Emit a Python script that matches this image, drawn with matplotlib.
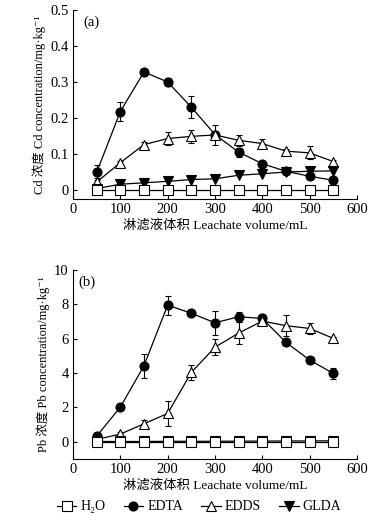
import matplotlib
matplotlib.use("Agg")
import matplotlib.pyplot as plt
from matplotlib.lines import Line2D

plt.rcParams['font.family'] = ['Liberation Serif', 'Noto Sans CJK SC', 'DejaVu Sans']

volume = [50, 100, 150, 200, 250, 300, 350, 400, 450, 500, 550]

# Panel (a) Cd
cd_h2o = [0, 0, 0, 0, 0, 0, 0, 0, 0, 0, 0]
cd_edta = [0.049, 0.218, 0.328, 0.300, 0.230, 0.154, 0.105, 0.073, 0.052, 0.038, 0.027]
cd_edta_err = [0.020, 0.027, 0.004, 0.012, 0.030, 0.010, 0.012, 0.005, 0.005, 0.005, 0.005]
cd_edds = [0.022, 0.076, 0.126, 0.143, 0.149, 0.153, 0.138, 0.129, 0.108, 0.103, 0.079]
cd_edds_err = [0.010, 0.005, 0.008, 0.018, 0.018, 0.028, 0.015, 0.012, 0.005, 0.018, 0.005]
cd_glda = [0.004, 0.016, 0.020, 0.024, 0.029, 0.031, 0.041, 0.045, 0.050, 0.052, 0.053]

# Panel (b) Pb
pb_h2o = [0, 0, 0, 0, 0, 0, 0, 0, 0, 0, 0]
pb_edta = [0.33, 2.02, 4.43, 7.96, 7.48, 6.93, 7.28, 7.18, 5.79, 4.76, 3.98]
pb_edta_err = [0.10, 0.10, 0.70, 0.55, 0.10, 0.70, 0.30, 0.25, 0.10, 0.10, 0.30]
pb_edds = [0.14, 0.45, 1.05, 1.65, 4.04, 5.51, 6.33, 7.03, 6.76, 6.60, 6.02]
pb_edds_err = [0.05, 0.10, 0.20, 0.75, 0.45, 0.48, 0.65, 0.20, 0.60, 0.30, 0.10]
pb_glda = [0.02, 0.02, 0.02, 0.03, 0.03, 0.03, 0.04, 0.04, 0.05, 0.05, 0.06]

labels = ['H\u2082O', 'EDTA', 'EDDS', 'GLDA']
markers = ['s', 'o', '^', 'v']
faces = ['white', 'black', 'white', 'black']

fig = plt.figure(figsize=(3.83, 5.22), dpi=100)
ax1 = fig.add_axes([0.1906, 0.6188, 0.7415, 0.362])
ax2 = fig.add_axes([0.1906, 0.1207, 0.7415, 0.362])

def draw(ax, series, errs):
    for i, (y, e) in enumerate(zip(series, errs)):
        if e is not None:
            ax.errorbar(volume, y, yerr=e, fmt='none', ecolor='black', elinewidth=0.8,
                        capsize=2.5, capthick=0.8, zorder=2)
        ax.plot(volume, y, color='black', lw=0.9, marker=markers[i], ms=6.5,
                mfc=faces[i], mec='black', mew=0.8, zorder=3 + (i == 0))

draw(ax1, [cd_h2o, cd_edta, cd_edds, cd_glda], [None, cd_edta_err, cd_edds_err, None])
draw(ax2, [pb_h2o, pb_edta, pb_edds, pb_glda], [None, pb_edta_err, pb_edds_err, None])

for ax in (ax1, ax2):
    ax.spines['top'].set_visible(False)
    ax.spines['right'].set_visible(False)
    ax.set_xlim(0, 600)
    ax.set_xticks([0, 100, 200, 300, 400, 500, 600])
    ax.tick_params(direction='in', length=3, width=0.8, labelsize=10.5, pad=3)
    ax.set_xlabel('淋滤液体积 Leachate volume/mL', fontsize=9.6, labelpad=2)

ax1.set_ylim(-0.025, 0.5)
ax1.set_yticks([0, 0.1, 0.2, 0.3, 0.4, 0.5])
ax1.set_yticklabels(['0', '0.1', '0.2', '0.3', '0.4', '0.5'])
ax1.set_ylabel('Cd 浓度 Cd concentration/mg\u00b7kg\u207b\u00b9', fontsize=9, labelpad=3)
ax1.text(0.035, 0.97, '(a)', transform=ax1.transAxes, fontsize=10.5, va='top')

ax2.set_ylim(-1, 10)
ax2.set_yticks([0, 2, 4, 6, 8, 10])
ax2.set_ylabel('Pb 浓度 Pb concentration/mg\u00b7kg\u207b\u00b9', fontsize=9, labelpad=3)
ax2.text(0.02, 0.97, '(b)', transform=ax2.transAxes, fontsize=10.5, va='top')

handles = [Line2D([], [], color='black', lw=0.9, marker=markers[i], ms=6.5,
                  mfc=faces[i], mec='black', mew=0.8) for i in range(4)]
fig.legend(handles, labels, loc='center', bbox_to_anchor=(0.52, 0.029), ncol=4,
           frameon=False, fontsize=10, handlelength=1.4, handletextpad=0.3,
           columnspacing=1.3)

fig.savefig('out.png', dpi=100)
